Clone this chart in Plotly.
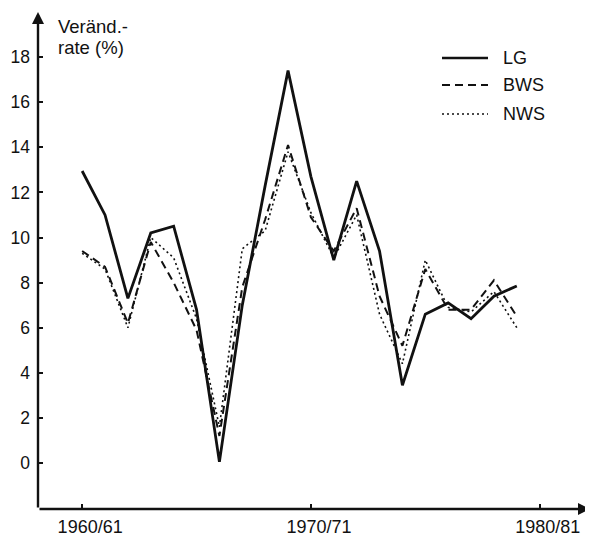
import plotly.graph_objects as go

years = list(range(1960, 1980))
lg = [12.95, 11.0, 7.3, 10.2, 10.5, 6.8, 0.05, 7.0, 12.3, 17.4, 12.7, 9.0, 12.5, 9.4, 3.45, 6.6, 7.1, 6.4, 7.4, 7.85]
bws = [9.4, 8.7, 6.2, 9.8, 8.0, 5.9, 1.2, 7.8, 10.8, 14.1, 10.9, 9.4, 11.3, 7.4, 5.2, 8.6, 6.8, 6.8, 8.1, 6.5]
nws = [9.3, 8.6, 6.0, 10.0, 9.1, 6.4, 1.6, 9.5, 10.3, 13.8, 11.1, 9.1, 11.0, 6.6, 4.4, 9.0, 6.9, 6.7, 7.6, 6.0]

x_ticks = [1960, 1970, 1980]
x_labels = ["1960/61", "1970/71", "1980/81"]
y_ticks = list(range(0, 19, 2))
series_names = ["LG", "BWS", "NWS"]

X0, X1 = 1958.07, 1982.2
Y0, Y1 = -2.04, 20.0
FONT = "Liberation Sans, Arial, sans-serif"
INK = "#111111"

# page has an 8px body margin; work in reference pixels and subtract it
OFF = 8
W, H = 593 - OFF, 542 - OFF
PL, PR, PT, PB = 38 - OFF, 590 - OFF, 12 - OFF, 509 - OFF


def px(x):
    return (x - OFF - PL) / (PR - PL)


def py(y):
    return (PB - (y - OFF)) / (PB - PT)


fig = go.Figure()
styles = [("solid", 2.8), ("8px,5px", 2.0), ("2px,3px", 1.6)]
for name, vals, (dash, w) in zip(series_names, [lg, bws, nws], styles):
    fig.add_trace(go.Scatter(x=years, y=vals, mode="lines", name=name,
                             line=dict(color=INK, width=w, dash=dash),
                             showlegend=False, cliponaxis=False))

# axes drawn as arrows
fig.add_annotation(x=X1, y=Y0, ax=X0, ay=Y0, xref="x", yref="y", axref="x", ayref="y",
                   text="", showarrow=True, arrowhead=2, arrowsize=1.0, arrowwidth=2.4,
                   arrowcolor=INK)
fig.add_annotation(x=X0, y=Y1, ax=X0, ay=Y0, xref="x", yref="y", axref="x", ayref="y",
                   text="", showarrow=True, arrowhead=2, arrowsize=1.0, arrowwidth=2.4,
                   arrowcolor=INK)

# axis title (two lines)
for txt, yy in [("Veränd.-", 27), ("rate (%)", 47)]:
    fig.add_annotation(x=px(56), y=py(yy), xref="paper", yref="paper", text=txt,
                       showarrow=False, xanchor="left", yanchor="middle", align="left",
                       font=dict(family=FONT, size=18.5, color=INK))

# manual legend
leg_y = [58, 85, 114]
dashes = ["solid", "8px,5px", "2px,3px"]
widths = [2.4, 2.2, 1.6]
for name, yy, d, w in zip(series_names, leg_y, dashes, widths):
    fig.add_shape(type="line", xref="paper", yref="paper",
                  x0=px(442), x1=px(488), y0=py(yy), y1=py(yy),
                  line=dict(color=INK, width=w, dash=d))
    fig.add_annotation(x=px(501), y=py(yy), xref="paper", yref="paper", text=name,
                       showarrow=False, xanchor="left", yanchor="middle",
                       font=dict(family=FONT, size=18, color=INK))

fig.update_layout(
    width=W, height=H,
    margin=dict(l=PL, r=W - PR, t=PT, b=H - PB, autoexpand=False),
    paper_bgcolor="white", plot_bgcolor="white",
    font=dict(family=FONT, size=17, color=INK),
    xaxis=dict(range=[X0, X1], showgrid=False, zeroline=False, showline=False,
               automargin=False,
               tickmode="array", tickvals=x_ticks, ticktext=x_labels,
               ticks="inside", ticklen=5, tickwidth=1.5, tickcolor=INK,
               tickfont=dict(size=18), ticklabelshift=8, ticklabelstandoff=5),
    yaxis=dict(range=[Y0, Y1], showgrid=False, zeroline=False, showline=False,
               automargin=False,
               tickmode="array", tickvals=y_ticks, ticktext=[str(v) for v in y_ticks],
               ticks="inside", ticklen=5, tickwidth=1.5, tickcolor=INK,
               tickfont=dict(size=17.5), ticklabelstandoff=7),
)

fig.write_html("out.html")
